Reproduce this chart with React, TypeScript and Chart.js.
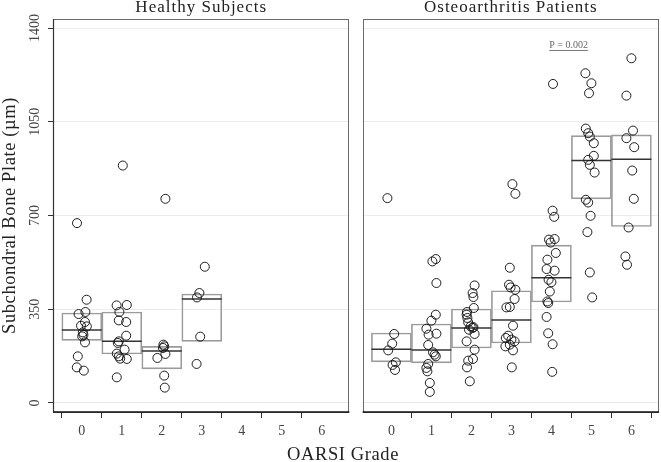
import React, { useEffect, useRef } from 'react';
import { Chart, registerables } from 'chart.js';
Chart.register(...registerables);

// ---------- data ----------
const gradeLabels = [0, 1, 2, 3, 4, 5, 6];
const panelTitles = ['Healthy Subjects', 'Osteoarthritis Patients'];
const yTickValues = [0, 350, 700, 1050, 1400];
const xTitle = 'OARSI Grade';
const yTitle = 'Subchondral Bone Plate (\u00b5m)';
const pText = 'P = 0.002';
const pGrade = 4.43;
const pValue = 1337;

// Healthy subjects – box statistics (grades 0–3)
const healthyGrades = [0, 1, 2, 3];
const healthyQ1 = [233.6, 182.8, 126.9, 229.9];
const healthyMedian = [272.4, 229.9, 194.0, 388.1];
const healthyQ3 = [335.8, 339.6, 211.2, 406.7];

// Healthy subjects – individual values and horizontal jitter per grade
const healthyG0 = [671.6, 385.4, 332, 339.6, 302.2, 285.8, 288.4, 263.4, 248.5, 253.7, 226.1, 173.9, 132.8, 120.5];
const healthyG0Jit = [-0.12, 0.12, -0.08, 0.09, 0.08, 0.125, -0.02, 0.025, 0.01, 0.04, 0.08, -0.1, -0.125, 0.05];
const healthyG1 = [886.6, 364.2, 365.7, 339.6, 308.2, 302.2, 251.1, 229.9, 223.9, 198.9, 184, 173.9, 165.3, 164.2, 95.5];
const healthyG1Jit = [0.025, -0.13, 0.125, -0.06, -0.075, 0.11, 0.11, -0.075, -0.1, 0.07, -0.125, -0.075, -0.04, 0.125, -0.125];
const healthyG2 = [762.3, 217.5, 211.2, 205.2, 182.8, 167.9, 101.9, 57.1];
const healthyG2Jit = [0.09, 0.04, 0.06, 0.03, 0.09, -0.11, 0.06, 0.075];
const healthyG3 = [508.6, 410.4, 394, 247.4, 145.5];
const healthyG3Jit = [0.075, -0.06, -0.12, -0.04, -0.13];

// Osteoarthritis patients – box statistics (grades 0–6)
const oaGrades = [0, 1, 2, 3, 4, 5, 6];
const oaQ1 = [153, 149.3, 205.2, 223.9, 376.9, 762.3, 659];
const oaMedian = [200, 197.8, 279.8, 309.7, 467.5, 905.2, 910.4];
const oaQ3 = [261.2, 294.8, 350.7, 419, 589.4, 998.5, 1001];

// Osteoarthritis patients – individual values and jitter per grade
const oaG0 = [764.9, 257.5, 221.3, 196.3, 151.5, 141.8, 123.1];
const oaG0Jit = [-0.1, 0.07, 0.02, -0.08, 0.11, 0.03, 0.09];
const oaG1 = [528.4, 537.3, 447.8, 329.5, 307.1, 277.2, 254.9, 258.6, 216.4, 188.8, 180.2, 173.9, 145.5, 130.6, 117.9, 74.6, 41];
const oaG1Jit = [0.025, 0.11, 0.125, 0.11, 0, -0.125, -0.07, 0.125, -0.08, 0.04, 0.08, 0.11, -0.08, -0.125, -0.1, -0.04, -0.04];
const oaG2 = [438.8, 410.4, 395.5, 354.5, 339.6, 329.5, 317.2, 300.7, 285.8, 279.8, 273.5, 283, 257.5, 229.9, 198.9, 164.2, 157.8, 132.8, 80.6];
const oaG2Jit = [0.08, 0.03, 0.05, 0.06, -0.11, -0.12, -0.1, -0.08, -0.02, 0.03, -0.06, 0.05, 0.08, -0.12, 0.08, 0.04, -0.08, -0.11, -0.04];
const oaG3 = [817.2, 781, 504.9, 441.4, 431.3, 422.8, 388.1, 358.2, 356.7, 288.4, 251.1, 242.5, 236.2, 229.9, 217.5, 211.2, 196.3, 132.8];
const oaG3Jit = [0.025, 0.1, -0.04, -0.06, -0.02, 0.1, 0.08, -0.04, -0.125, 0.04, -0.08, -0.14, 0, 0.08, -0.04, -0.15, 0.04, 0.01];
const oaG4 = [1191.4, 718, 695, 610, 612, 599, 560, 535, 500, 494, 460, 451, 416, 379, 373, 321, 260, 219, 116];
const oaG4Jit = [0.04, 0.03, 0.07, -0.06, 0.08, -0.02, 0.11, -0.1, -0.12, 0.08, -0.07, 0, -0.04, -0.1, -0.08, -0.12, -0.08, 0.03, 0.02];
const oaG5 = [1231.3, 1194, 1156.7, 1024.6, 1007.5, 994.8, 970.1, 922.8, 907.8, 889.2, 860.4, 758.6, 748.5, 698.9, 638, 487.3, 394];
const oaG5Jit = [-0.15, 0, -0.06, -0.14, -0.08, -0.04, 0.06, 0.06, -0.08, -0.04, 0.08, -0.14, -0.08, -0.02, -0.1, -0.04, 0.02];
const oaG6 = [1287.3, 1147.8, 1017.2, 988.8, 955.2, 867.9, 762.3, 655.2, 547, 516];
const oaG6Jit = [0, -0.125, 0.04, -0.125, 0.07, 0.02, 0.06, -0.07, -0.15, -0.11];

// ---------- layout constants ----------
const OFFSET = 7.74; // right panel x shift (in grade units)
const PANEL_MIN = -0.72;
const PANEL_MAX = 6.69;
const X_MIN = PANEL_MIN;
const X_MAX = OFFSET + PANEL_MAX;
const Y_MIN = -34;
const Y_MAX = 1434;
const SERIF = "'Liberation Serif', 'Times New Roman', serif";

const healthyPts = [healthyG0, healthyG1, healthyG2, healthyG3];
const healthyJit = [healthyG0Jit, healthyG1Jit, healthyG2Jit, healthyG3Jit];
const oaPts = [oaG0, oaG1, oaG2, oaG3, oaG4, oaG5, oaG6];
const oaJit = [oaG0Jit, oaG1Jit, oaG2Jit, oaG3Jit, oaG4Jit, oaG5Jit, oaG6Jit];

function scatterData(groups: number[][], jit: number[][], grades: number[], off: number) {
  const out: { x: number; y: number }[] = [];
  groups.forEach((vals, gi) => {
    vals.forEach((v, k) => out.push({ x: grades[gi] + off + jit[gi][k], y: v }));
  });
  return out;
}

const facetPlugin = {
  id: 'facet',
  beforeDatasetsDraw(chart: any) {
    const { ctx, chartArea, scales } = chart;
    const x = scales.x;
    const gl = x.getPixelForValue(PANEL_MAX);
    const gr = x.getPixelForValue(OFFSET + PANEL_MIN);
    ctx.save();
    ctx.fillStyle = '#ffffff';
    ctx.fillRect(gl, chartArea.top - 2, gr - gl, chartArea.bottom - chartArea.top + 12);
    ctx.restore();
  },
  afterDatasetsDraw(chart: any) {
    const { ctx, chartArea, scales } = chart;
    const x = scales.x;
    const y = scales.y;
    const top = chartArea.top;
    const bottom = chartArea.bottom;
    const panels = [
      [x.getPixelForValue(PANEL_MIN), x.getPixelForValue(PANEL_MAX)],
      [x.getPixelForValue(OFFSET + PANEL_MIN), x.getPixelForValue(OFFSET + PANEL_MAX)],
    ];
    ctx.save();
    panels.forEach(([l, r], i) => {
      ctx.strokeStyle = '#6a6a6a';
      ctx.lineWidth = 1;
      ctx.strokeRect(Math.round(l) + 0.5, Math.round(top) + 0.5, Math.round(r - l) - 1, Math.round(bottom - top));
      ctx.strokeStyle = '#111';
      ctx.lineWidth = 1.6;
      ctx.beginPath();
      ctx.moveTo(l, bottom);
      ctx.lineTo(r, bottom);
      ctx.stroke();
      if (i === 0) {
        ctx.strokeStyle = '#333';
        ctx.lineWidth = 1.2;
        ctx.beginPath();
        ctx.moveTo(l + 0.5, top);
        ctx.lineTo(l + 0.5, bottom);
        ctx.stroke();
      }
      // strip titles
      ctx.fillStyle = '#222';
      ctx.font = `17px ${SERIF}`;
      (ctx as any).letterSpacing = '1px';
      ctx.textAlign = 'center';
      ctx.textBaseline = 'alphabetic';
      ctx.fillText(panelTitles[i], (l + r) / 2, 12);
    });

    // y tick labels (rotated)
    ctx.font = `14px ${SERIF}`;
    (ctx as any).letterSpacing = '0px';
    ctx.fillStyle = '#444';
    yTickValues.forEach((v) => {
      const py = y.getPixelForValue(v);
      ctx.save();
      ctx.translate(39, py);
      ctx.rotate(-Math.PI / 2);
      ctx.textAlign = 'center';
      ctx.textBaseline = 'alphabetic';
      ctx.fillText(String(v), 0, 0);
      ctx.restore();
    });

    // y axis title
    ctx.save();
    ctx.fillStyle = '#222';
    ctx.font = `18.5px ${SERIF}`;
    (ctx as any).letterSpacing = '0.6px';
    ctx.translate(15, (top + bottom) / 2);
    ctx.rotate(-Math.PI / 2);
    ctx.textAlign = 'center';
    ctx.textBaseline = 'alphabetic';
    ctx.fillText(yTitle, 0, 0);
    ctx.restore();

    // x axis title
    ctx.fillStyle = '#222';
    ctx.font = `18.5px ${SERIF}`;
    (ctx as any).letterSpacing = '0.6px';
    ctx.textAlign = 'center';
    ctx.textBaseline = 'alphabetic';
    ctx.fillText(xTitle, 343, 460);

    // P value annotation
    const px = x.getPixelForValue(OFFSET + pGrade);
    const py = y.getPixelForValue(pValue);
    ctx.font = `10px ${SERIF}`;
    (ctx as any).letterSpacing = '0px';
    ctx.fillStyle = '#666';
    ctx.fillText(pText, px, py + 3);
    const w = ctx.measureText(pText).width;
    ctx.strokeStyle = '#777';
    ctx.lineWidth = 1;
    ctx.beginPath();
    ctx.moveTo(px - w / 2, py + 5.5);
    ctx.lineTo(px + w / 2, py + 5.5);
    ctx.stroke();
    ctx.restore();
  },
};

export default function App() {
  const ref = useRef<HTMLCanvasElement>(null);
  useEffect(() => {
    if (!ref.current) return;
    const boxDataset = (grades: number[], q1: number[], q3: number[], off: number) => ({
      type: 'bar' as const,
      data: grades.map((g, i) => ({ x: g + off, y: [q1[i], q3[i]] })),
      backgroundColor: 'rgba(0,0,0,0)',
      borderColor: '#9a9a9a',
      borderWidth: 1,
      borderSkipped: false,
      barThickness: 40,
      grouped: false,
      order: 3,
    });
    const medianDataset = (grades: number[], med: number[], off: number) => ({
      type: 'scatter' as const,
      data: grades.map((g, i) => ({ x: g + off, y: med[i] })),
      pointStyle: 'line',
      pointRadius: 20,
      borderColor: '#333',
      borderWidth: 1.5,
      backgroundColor: '#333',
      order: 2,
    });
    const pointDataset = (data: { x: number; y: number }[]) => ({
      type: 'scatter' as const,
      data,
      pointRadius: 4.5,
      borderColor: 'rgba(20,20,20,0.95)',
      borderWidth: 1,
      backgroundColor: 'rgba(0,0,0,0)',
      order: 1,
    });

    const chart = new Chart(ref.current, {
      type: 'scatter',
      data: {
        datasets: [
          boxDataset(healthyGrades, healthyQ1, healthyQ3, 0),
          boxDataset(oaGrades, oaQ1, oaQ3, OFFSET),
          medianDataset(healthyGrades, healthyMedian, 0),
          medianDataset(oaGrades, oaMedian, OFFSET),
          pointDataset(scatterData(healthyPts, healthyJit, healthyGrades, 0)),
          pointDataset(scatterData(oaPts, oaJit, oaGrades, OFFSET)),
        ] as any,
      },
      options: {
        responsive: false,
        animation: false,
        layout: { autoPadding: false, padding: { left: 0, top: 19, right: 2, bottom: 0 } },
        plugins: { legend: { display: false }, tooltip: { enabled: false } },
        scales: {
          x: {
            type: 'linear',
            min: X_MIN,
            max: X_MAX,
            offset: false,
            afterBuildTicks: (scale: any) => {
              scale.ticks = [
                ...gradeLabels.map((g) => ({ value: g })),
                ...gradeLabels.map((g) => ({ value: g + OFFSET })),
              ];
            },
            afterFit: (scale: any) => {
              scale.height = 50;
            },
            ticks: {
              autoSkip: false,
              maxRotation: 0,
              padding: 5,
              color: '#444',
              font: { family: SERIF, size: 14 },
              callback: (v: any) => String(v < OFFSET - 1 ? Math.round(v) : Math.round(v - OFFSET)),
            },
            grid: {
              drawOnChartArea: false,
              drawTicks: true,
              tickLength: 6,
              tickColor: '#333',
              tickWidth: 1,
            },
            border: { display: false },
          },
          y: {
            type: 'linear',
            min: Y_MIN,
            max: Y_MAX,
            afterBuildTicks: (scale: any) => {
              scale.ticks = yTickValues.map((v) => ({ value: v }));
            },
            afterFit: (scale: any) => {
              scale.width = 53;
            },
            ticks: { display: false },
            grid: {
              color: '#ececec',
              lineWidth: 1,
              drawTicks: true,
              tickLength: 5,
              tickColor: '#333',
            },
            border: { display: false },
          },
        },
      },
      plugins: [facetPlugin],
    });
    return () => chart.destroy();
  }, []);
  return (
    <div style={{ position: 'fixed', left: 0, top: 0, width: 661, height: 462, background: '#fff' }}>
      <canvas ref={ref} width={661} height={462} style={{ display: 'block' }} />
    </div>
  );
}
